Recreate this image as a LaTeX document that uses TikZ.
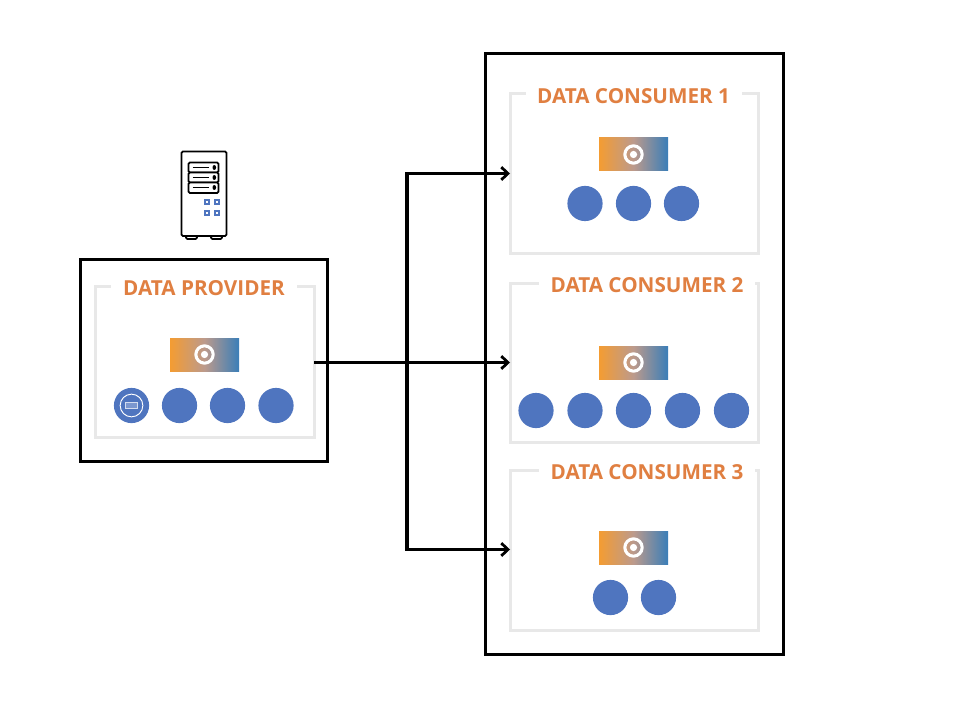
\documentclass[tikz,border=0pt]{standalone}
\usepackage{fontspec}
\setmainfont{Open Sans}
\usetikzlibrary{arrows.meta}
\definecolor{dotblue}{HTML}{4F75BF}
\definecolor{labelorange}{HTML}{E07F41}
\definecolor{framegrey}{HTML}{E8E8E8}
\definecolor{gradleft}{HTML}{F49C32}
\definecolor{gradmid}{HTML}{BC9A8C}
\definecolor{gradright}{HTML}{3A7EB8}
\tikzset{
  px/.style={x=0.75pt,y=-0.75pt},
  outerbox/.style={draw=black,line width=2.25pt,fill=white,inner sep=0pt,outer sep=0pt,anchor=north west},
  innerbox/.style={draw=framegrey,line width=2.25pt,inner sep=0pt,outer sep=0pt,anchor=north west},
  boxlabel/.style={fill=white,text=labelorange,font=\fontsize{15.5pt}{18pt}\selectfont\bfseries,inner sep=0pt,outer sep=0pt,minimum height=14pt,anchor=center},
  dotnode/.style={circle,fill=dotblue,minimum size=26.4pt,inner sep=0pt},
  gradnode/.style={rectangle,minimum width=51.75pt,minimum height=24.75pt,inner sep=0pt,left color=gradleft,right color=gradright,middle color=gradmid},
  ringnode/.style={circle,draw=white,line width=2.3pt,minimum size=13pt,inner sep=0pt},
  coredot/.style={circle,fill=white,minimum size=5.4pt,inner sep=0pt},
  flow/.style={draw=black,line width=2.4pt},
  flowtip/.style={flow,-{Straight Barb[length=5pt,width=9.5pt,line width=2.1pt]}},
  srv/.style={draw=black,line width=1.4pt,rounded corners=1pt,fill=white},
  srvline/.style={draw=black,line width=1.1pt},
  srvdot/.style={rectangle,draw=dotblue,line width=1.3pt,minimum size=3.2pt,inner sep=0pt,fill=white},
}
\newcommand{\hub}[3]{%
  \node[gradnode] (#1) at (#2,#3) {};
  \node[ringnode] (#1r) at (#2,#3) {};
  \node[coredot] (#1c) at (#2,#3) {};
}
\begin{document}
\begin{tikzpicture}[px]
\useasboundingbox (0,0) rectangle (966,716);
% outer boxes
\node[outerbox,minimum width=185.6pt,minimum height=150.75pt] (provider) at (80.5,260) {};
\node[outerbox,minimum width=223.5pt,minimum height=450pt] (consumers) at (485.5,54) {};
% inner frames
\node[innerbox,minimum width=164.25pt,minimum height=112.5pt] (pframe) at (95,287) {};
\node[innerbox,minimum width=186.5pt,minimum height=120pt] (cframea) at (510,93.3) {};
\node[innerbox,minimum width=186.5pt,minimum height=119.25pt] (cframeb) at (510,283.3) {};
\node[innerbox,minimum width=186.5pt,minimum height=120pt] (cframec) at (510,470) {};
% labels
\node[boxlabel,minimum width=139.5pt] (plabel) at (204,288) {DATA PROVIDER};
\node[boxlabel,minimum width=162pt] (clabela) at (633.5,96) {DATA CONSUMER 1};
\node[boxlabel,minimum width=162pt] (clabelb) at (647,285) {DATA CONSUMER 2};
\node[boxlabel,minimum width=162pt] (clabelc) at (647,472) {DATA CONSUMER 3};
% hubs
\hub{hp}{204.5}{354.5}
\hub{hca}{633.5}{154.5}
\hub{hcb}{633.5}{362.5}
\hub{hcc}{633.5}{547.5}
% provider dots
\node[dotnode] (pd1) at (131.5,405.5) {};
\node[circle,draw=white,line width=0.7pt,minimum size=17pt,inner sep=0pt] (pring) at (131.5,405.5) {};
\node[rectangle,draw=white!75!dotblue,fill=white!25!dotblue,line width=0.8pt,minimum width=9.5pt,minimum height=4.2pt,inner sep=0pt] (pslot) at (131.5,405.5) {};
\node[dotnode] (pd2) at (179.5,405.5) {};
\node[dotnode] (pd3) at (227.5,405.5) {};
\node[dotnode] (pd4) at (276,405.5) {};
% consumer 1 dots
\node[dotnode] (a1) at (585,203.5) {};
\node[dotnode] (a2) at (633.5,203.5) {};
\node[dotnode] (a3) at (681.5,203.5) {};
% consumer 2 dots
\node[dotnode] (b1) at (536,410.5) {};
\node[dotnode] (b2) at (585,410.5) {};
\node[dotnode] (b3) at (633.5,410.5) {};
\node[dotnode] (b4) at (682.5,410.5) {};
\node[dotnode] (b5) at (731.5,410.5) {};
% consumer 3 dots
\node[dotnode] (c1) at (610.5,597.5) {};
\node[dotnode] (c2) at (658.5,597.5) {};
% server icon
\draw[srv] (186,235) rectangle (197,239);
\draw[srv] (211,235) rectangle (222,239);
\draw[srv] (181.5,151.5) rectangle (226.5,236);
\draw[srv] (188.5,162.5) rectangle (218.5,172.5);
\draw[srv] (188.5,172.5) rectangle (218.5,182.5);
\draw[srv] (188.5,182.5) rectangle (218.5,193);
\foreach \yy in {167.5,177.5,187.5}{
  \draw[srvline] (192.5,\yy) -- (209,\yy);
  \fill[black] (214.3,\yy) ellipse (1.8 and 2.5);
}
\node[srvdot] (s1) at (207,202) {};
\node[srvdot] (s2) at (217,202) {};
\node[srvdot] (s3) at (207,213) {};
\node[srvdot] (s4) at (217,213) {};
% connectors
\coordinate (junction) at (407,362.5);
\coordinate (top) at (407,173.5);
\coordinate (bottom) at (407,549.5);
\coordinate (src) at (pframe.east |- junction);
\draw[flowtip] (src) -- (cframeb.west |- junction);
\draw[flowtip] (junction) -- (top) -- (cframea.west |- top);
\draw[flowtip] (junction) -- (bottom) -- (cframec.west |- bottom);
\end{tikzpicture}
\end{document}
